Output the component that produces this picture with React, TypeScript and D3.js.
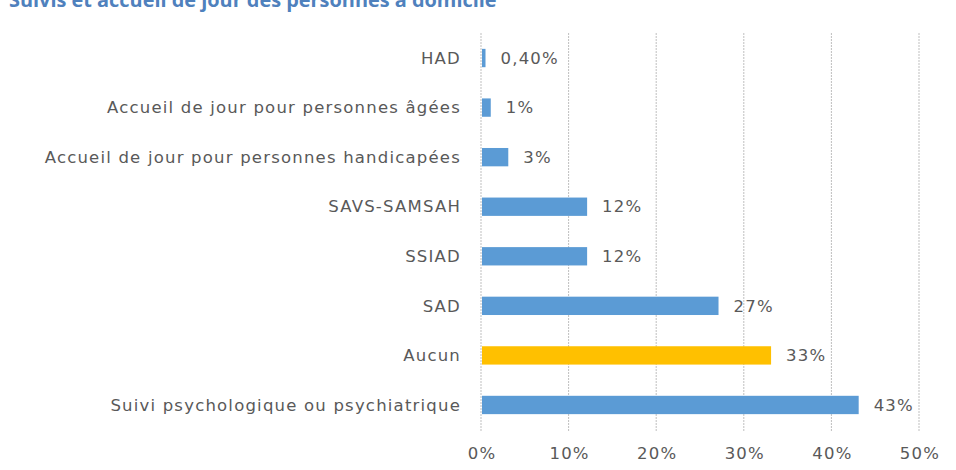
import { useEffect, useRef } from "react";
import * as d3 from "d3";

// ----- Data ---------------------------------------------------------------
const categories = [
  "HAD",
  "Accueil de jour pour personnes âgées",
  "Accueil de jour pour personnes handicapées",
  "SAVS-SAMSAH",
  "SSIAD",
  "SAD",
  "Aucun",
  "Suivi psychologique ou psychiatrique",
];
const values = [0.4, 1, 3, 12, 12, 27, 33, 43];
const valueLabels = ["0,40%", "1%", "3%", "12%", "12%", "27%", "33%", "43%"];
const highlighted = ["Aucun"];
const xTicks = [0, 10, 20, 30, 40, 50];
const title = "Suivis et accueil de jour des personnes à domicile";

const App = () => {
  const svgRef = useRef<SVGSVGElement | null>(null);

  useEffect(() => {
    const svg = d3.select(svgRef.current);
    svg.selectAll("*").remove();

    const width = 956;
    const height = 470;
    const font = "'DejaVu Sans', sans-serif";
    const textColor = "#595959";

    // title, cut by the top edge as in the source
    svg
      .append("text")
      .attr("x", 9)
      .attr("y", 7)
      .attr("font-family", "'Open Sans', sans-serif")
      .attr("font-weight", "bold")
      .attr("font-size", 19.9)
      .attr("fill", "#4f81bd")
      .text(title);

    // ----- Scales -----------------------------------------------------------
    const x = d3.scaleLinear().domain([0, 50]).range([481, 919]);
    const y = d3
      .scaleBand<string>()
      .domain(categories)
      .range([33, 430])
      .paddingInner(0.63)
      .paddingOuter(0.32);

    // ----- Grid -------------------------------------------------------------
    svg
      .append("g")
      .selectAll("line")
      .data(xTicks)
      .join("line")
      .attr("x1", (d) => x(d))
      .attr("x2", (d) => x(d))
      .attr("y1", 33)
      .attr("y2", 432)
      .attr("stroke", "#bfbfbf")
      .attr("stroke-width", 1)
      .attr("stroke-dasharray", "2,1");

    svg
      .append("g")
      .selectAll("text")
      .data(xTicks)
      .join("text")
      .attr("x", (d) => x(d) + 1)
      .attr("y", 453)
      .attr("dy", "0.35em")
      .attr("text-anchor", "middle")
      .attr("font-family", font)
      .attr("font-size", 16.5)
      .attr("letter-spacing", 1.2)
      .attr("fill", textColor)
      .text((d) => `${d}%`);

    // ----- Bars -------------------------------------------------------------
    svg
      .append("g")
      .selectAll("rect")
      .data(categories)
      .join("rect")
      .attr("x", x(0) + 1)
      .attr("y", (d) => y(d)!)
      .attr("width", (_, i) => x(values[i]) - x(0))
      .attr("height", y.bandwidth())
      .attr("fill", (d) => (highlighted.includes(d) ? "#ffc000" : "#5b9bd5"));

    // category labels
    svg
      .append("g")
      .selectAll("text")
      .data(categories)
      .join("text")
      .attr("x", 461)
      .attr("y", (d) => y(d)! + y.bandwidth() / 2)
      .attr("dy", "0.35em")
      .attr("text-anchor", "end")
      .attr("font-family", font)
      .attr("font-size", 16.5)
      .attr("letter-spacing", 1.2)
      .attr("fill", textColor)
      .text((d) => d);

    // value labels
    svg
      .append("g")
      .selectAll("text")
      .data(categories)
      .join("text")
      .attr("x", (_, i) => x(values[i]) + 16)
      .attr("y", (d) => y(d)! + y.bandwidth() / 2)
      .attr("dy", "0.35em")
      .attr("font-family", font)
      .attr("font-size", 16.5)
      .attr("letter-spacing", 1.2)
      .attr("fill", textColor)
      .text((_, i) => valueLabels[i]);

    svg.attr("width", width).attr("height", height);
  }, []);

  return (
    <svg
      ref={svgRef}
      width={956}
      height={470}
      style={{ position: "fixed", left: 0, top: 0, background: "#fff" }}
    />
  );
};

export default App;
